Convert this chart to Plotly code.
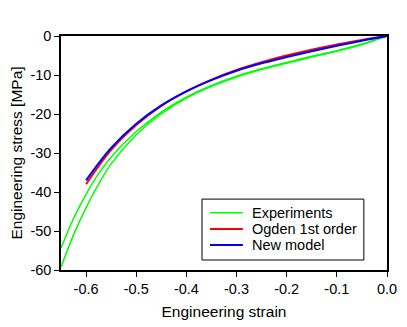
import plotly.graph_objects as go

strain = [-0.65, -0.625, -0.6, -0.575, -0.55, -0.5, -0.45, -0.4, -0.35, -0.3, -0.25, -0.2,
          -0.15, -0.1, -0.075, -0.05, -0.025, 0.0]
exp_lower = [-59.3, -51.0, -44.0, -38.0, -32.8, -25.3, -19.9, -15.9, -12.9, -10.5, -8.6, -7.0,
             -5.4, -3.9, -3.1, -2.2, -1.15, 0.0]
exp_upper = [-54.4, -46.8, -40.6, -35.3, -31.0, -24.5, -19.5, -15.7, -12.7, -10.3, -8.4, -6.8,
             -5.2, -3.75, -2.95, -2.05, -1.05, 0.0]

model_strain = [-0.6, -0.55, -0.5, -0.45, -0.4, -0.35, -0.3, -0.25, -0.2, -0.15, -0.1, -0.05, 0.0]
ogden = [-38.0, -29.2, -22.8, -17.9, -14.2, -11.2, -8.7, -6.7, -5.0, -3.5, -2.2, -1.0, 0.0]
new_model = [-37.0, -28.7, -22.5, -17.8, -14.2, -11.3, -8.9, -7.0, -5.4, -3.9, -2.5, -1.2, 0.0]

x_ticks = [-0.6, -0.5, -0.4, -0.3, -0.2, -0.1, 0.0]
x_labels = ["-0.6", "-0.5", "-0.4", "-0.3", "-0.2", "-0.1", "0.0"]
y_ticks = [0, -10, -20, -30, -40, -50, -60]
y_labels = ["0", "-10", "-20", "-30", "-40", "-50", "-60"]

legend_names = ["Experiments", "Ogden 1st order", "New model"]
legend_colors = ["#00ff00", "#ff0000", "#0000ff"]
legend_widths = [1.5, 2, 2]
legend_rows = [0.245, 0.175, 0.107]

fig = go.Figure()
fig.add_trace(go.Scatter(x=strain, y=exp_lower, mode="lines", name="Experiments",
                         line=dict(color="#00ff00", width=1.5, shape="spline")))
fig.add_trace(go.Scatter(x=strain, y=exp_upper, mode="lines", name="Experiments",
                         line=dict(color="#00ff00", width=1.5, shape="spline")))
fig.add_trace(go.Scatter(x=model_strain, y=ogden, mode="lines", name="Ogden 1st order",
                         line=dict(color="#ff0000", width=2, shape="spline")))
fig.add_trace(go.Scatter(x=model_strain, y=new_model, mode="lines", name="New model",
                         line=dict(color="#0000ff", width=2, shape="spline")))

# legend box drawn by hand to match the tight original layout
fig.add_shape(type="rect", xref="paper", yref="paper", x0=0.4325, x1=0.929, y0=0.0427, y1=0.303,
              line=dict(color="black", width=1), fillcolor="white", layer="above")
for name, col, w, yy in zip(legend_names, legend_colors, legend_widths, legend_rows):
    fig.add_shape(type="line", xref="paper", yref="paper", x0=0.457, x1=0.558, y0=yy, y1=yy,
                  line=dict(color=col, width=w), layer="above")
    fig.add_annotation(text=name, xref="paper", yref="paper", x=0.58, y=yy, xanchor="left",
                       yanchor="middle", showarrow=False, font=dict(size=14.5, color="black"))

axis_common = dict(showgrid=False, zeroline=False, showline=True, linecolor="black", linewidth=1.5,
                   mirror=True, ticks="outside", ticklen=5, tickcolor="black", automargin=False,
                   tickfont=dict(size=14.5, color="black"))

# page body has an 8px margin, so the figure is shrunk and shifted to compensate
fig.update_layout(
    width=399, height=319,
    margin=dict(l=53, r=20, t=28, b=57),
    plot_bgcolor="white", paper_bgcolor="white",
    font=dict(family="Liberation Sans, Arial", color="black"),
    xaxis=dict(range=[-0.65, 0.0], tickvals=x_ticks, ticktext=x_labels,
               title=dict(text="Engineering strain", font=dict(size=15.5), standoff=10), **axis_common),
    yaxis=dict(range=[-60, 0], tickvals=y_ticks, ticktext=y_labels,
               title=dict(text="Engineering stress [MPa]", font=dict(size=15.5), standoff=13), **axis_common),
    showlegend=False,
)

fig.write_html("out.html")
